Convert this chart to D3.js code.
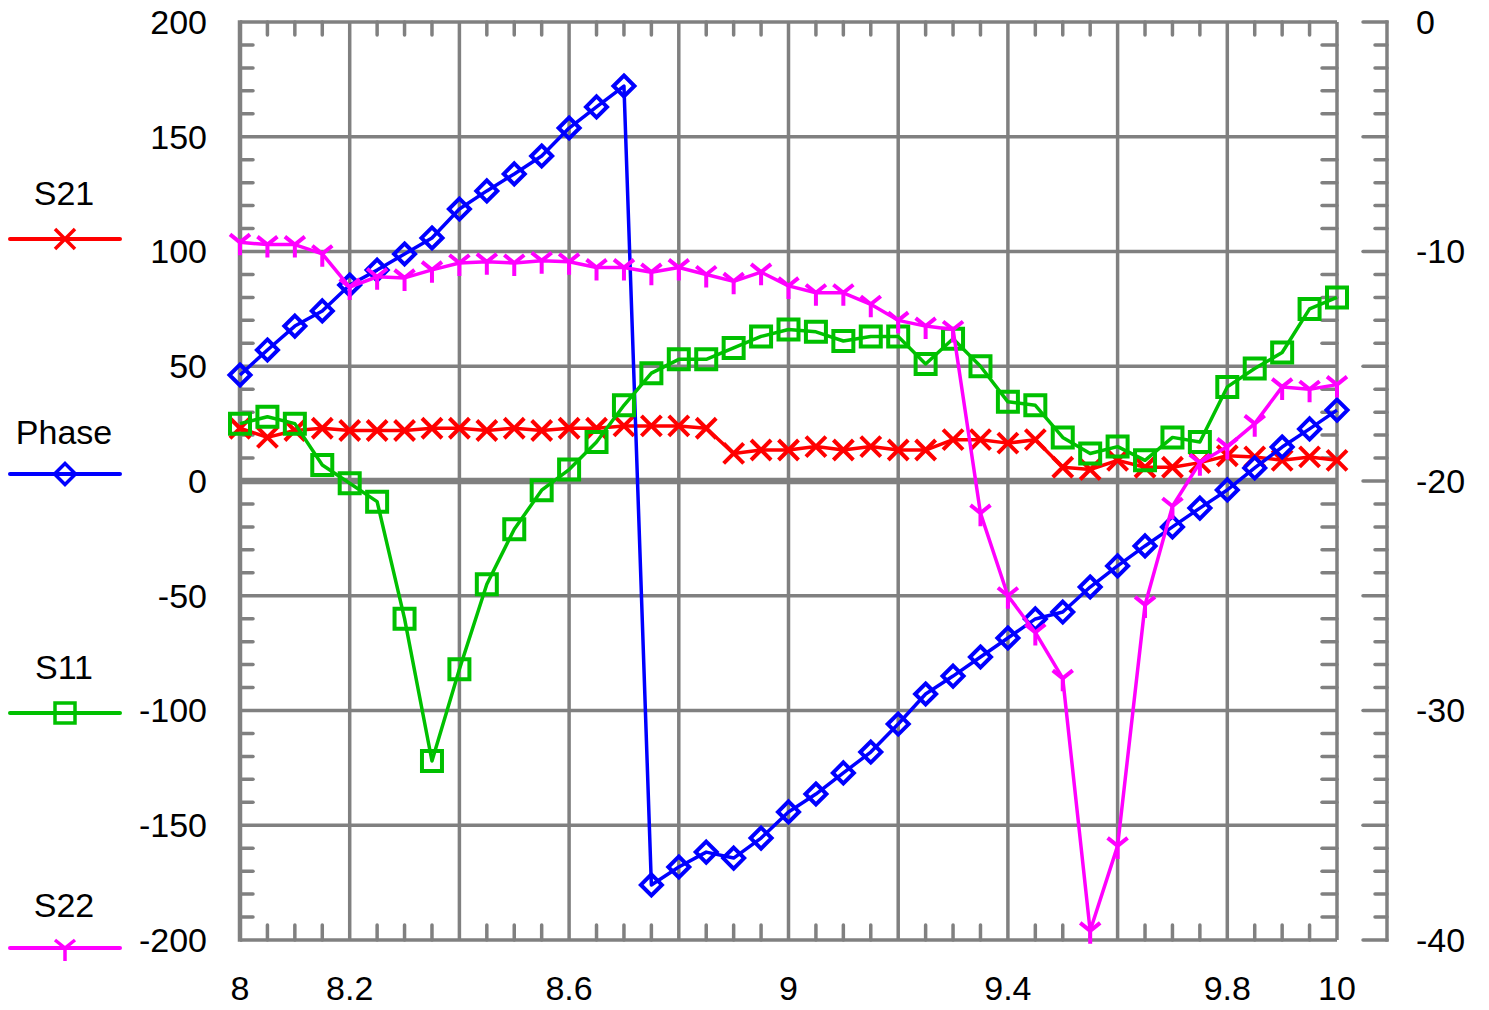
<!DOCTYPE html>
<html><head><meta charset="utf-8">
<script src="https://cdn.jsdelivr.net/npm/d3@7"></script>
<style>body{margin:0;background:#fff}svg{display:block;font-family:"Liberation Sans",Arial,sans-serif}</style>
</head><body><svg id="c" width="1489" height="1010"></svg>
<script>
// ---- data ----
const freq = [8.00,8.05,8.10,8.15,8.20,8.25,8.30,8.35,8.40,8.45,8.50,8.55,8.60,8.65,8.70,8.75,8.80,8.85,8.90,8.95,
              9.00,9.05,9.10,9.15,9.20,9.25,9.30,9.35,9.40,9.45,9.50,9.55,9.60,9.65,9.70,9.75,9.80,9.85,9.90,9.95,10.00];
// Phase (deg, left axis)
const phase = [46.2,57.1,67.5,74.1,85.4,91.9,98.9,105.9,118.5,126.4,133.8,141.6,153.8,163.0,172.1,
               -176.0,-168.2,-161.7,-164.3,-155.6,-144.2,-136.4,-127.2,-118.1,-105.9,-92.8,-85.0,-76.7,-68.4,-60.1,
               -57.1,-46.2,-37.0,-28.3,-20.0,-11.8,-3.9,5.7,14.8,22.7,30.9];
// S21 (dB, right axis)
const s21 = [-17.7,-18.1,-17.8,-17.7,-17.8,-17.8,-17.8,-17.7,-17.7,-17.8,-17.7,-17.8,-17.7,-17.7,-17.6,-17.6,-17.6,-17.7,
             -18.8,-18.65,-18.65,-18.5,-18.65,-18.5,-18.65,-18.65,-18.2,-18.2,-18.35,-18.2,
             -19.4,-19.5,-19.1,-19.4,-19.4,-19.2,-18.9,-18.95,-19.1,-18.95,-19.1];
// S11 (dB, right axis)
const s11 = [-17.5,-17.2,-17.5,-19.3,-20.1,-20.9,-26.0,-32.2,-28.2,-24.5,-22.1,-20.4,-19.5,-18.3,-16.7,-15.3,-14.7,-14.7,
             -14.2,-13.7,-13.4,-13.5,-13.9,-13.7,-13.7,-14.9,-13.8,-15.0,-16.55,-16.7,-18.1,-18.8,-18.5,-19.1,-18.1,-18.3,
             -15.9,-15.1,-14.4,-12.5,-12.0];
// S22 (dB, right axis)
const s22 = [-9.6,-9.7,-9.7,-10.1,-11.55,-11.1,-11.15,-10.8,-10.5,-10.45,-10.5,-10.4,-10.45,-10.7,-10.7,-10.9,-10.7,-11.0,
             -11.3,-10.9,-11.5,-11.8,-11.8,-12.3,-13.0,-13.25,-13.4,-21.4,-25.0,-26.6,-28.6,-39.6,-35.9,-25.4,-21.1,
             -19.2,-18.5,-17.5,-15.9,-16.0,-15.8];
const xTickLabels = [8, 8.2, 8.6, 9, 9.4, 9.8, 10];
const xGrid = [8.2, 8.4, 8.6, 8.8, 9, 9.2, 9.4, 9.6, 9.8];
const leftTickLabels = [200, 150, 100, 50, 0, -50, -100, -150, -200];
const rightTickLabels = [0, -10, -20, -30, -40];
const seriesNames = ["S21", "Phase", "S11", "S22"];

// ---- layout ----
const svg = d3.select("#c");
const L = 240, R = 1337, T = 22, B = 940;
const x = d3.scaleLinear().domain([8, 10]).range([L, R]);
const yL = d3.scaleLinear().domain([-200, 200]).range([B, T]);
const yR = d3.scaleLinear().domain([-40, 0]).range([B, T]);
const grey = "#808080";
const gw = 3.5;

const g = svg.append("g");
// grid
g.selectAll(".vg").data(xGrid).join("line")
  .attr("x1", d => x(d)).attr("x2", d => x(d)).attr("y1", T).attr("y2", B)
  .attr("stroke", grey).attr("stroke-width", gw);
g.selectAll(".hg").data(leftTickLabels.filter(d => d !== 0 && Math.abs(d) !== 200)).join("line")
  .attr("x1", L).attr("x2", R).attr("y1", d => yL(d)).attr("y2", d => yL(d))
  .attr("stroke", grey).attr("stroke-width", gw);
// zero line
g.append("line").attr("x1", L).attr("x2", R).attr("y1", yL(0)).attr("y2", yL(0))
  .attr("stroke", grey).attr("stroke-width", 6.5);

// minor ticks inside frame
const xMinor = d3.range(1, 40).map(i => 8 + i * 0.05).filter(v => Math.abs((v - 8) / 0.2 - Math.round((v - 8) / 0.2)) > 1e-6);
const yMinor = d3.range(-190, 200, 10).filter(v => v % 50 !== 0);
g.selectAll(".tt").data(xMinor).join("line")
  .attr("x1", d => x(d)).attr("x2", d => x(d)).attr("y1", T).attr("y2", T + 13)
  .attr("stroke", grey).attr("stroke-width", gw).attr("stroke-linecap", "round");
g.selectAll(".bt").data(xMinor).join("line")
  .attr("x1", d => x(d)).attr("x2", d => x(d)).attr("y1", B).attr("y2", B - 15)
  .attr("stroke", grey).attr("stroke-width", gw).attr("stroke-linecap", "round");
g.selectAll(".lt").data(yMinor).join("line")
  .attr("x1", L).attr("x2", L + 13).attr("y1", d => yL(d)).attr("y2", d => yL(d))
  .attr("stroke", grey).attr("stroke-width", gw).attr("stroke-linecap", "round");
g.selectAll(".rt").data(yMinor).join("line")
  .attr("x1", R).attr("x2", R - 15).attr("y1", d => yL(d)).attr("y2", d => yL(d))
  .attr("stroke", grey).attr("stroke-width", gw).attr("stroke-linecap", "round");

// frame
g.append("line").attr("x1", L).attr("x2", R).attr("y1", T).attr("y2", T).attr("stroke", grey).attr("stroke-width", gw);
g.append("line").attr("x1", L).attr("x2", R).attr("y1", B).attr("y2", B).attr("stroke", grey).attr("stroke-width", gw);
g.append("line").attr("x1", R).attr("x2", R).attr("y1", T).attr("y2", B).attr("stroke", grey).attr("stroke-width", gw);
g.append("line").attr("x1", L).attr("x2", L).attr("y1", T - 1.75).attr("y2", B + 1.75).attr("stroke", grey).attr("stroke-width", 4.5);

// right axis
const RA = 1387;
g.append("line").attr("x1", RA).attr("x2", RA).attr("y1", T - 1.75).attr("y2", B + 1.75).attr("stroke", grey).attr("stroke-width", gw);
g.selectAll(".ra").data(d3.range(-40, 1, 1)).join("line")
  .attr("x1", RA).attr("x2", d => d % 5 === 0 ? RA - 24 : RA - 12)
  .attr("y1", d => yR(d)).attr("y2", d => yR(d))
  .attr("stroke", grey).attr("stroke-width", gw).attr("stroke-linecap", "round");

// tick labels
const fs = 34;
svg.selectAll(".ll").data(leftTickLabels).join("text")
  .attr("x", 207).attr("y", d => yL(d)).attr("dy", "0.35em")
  .attr("text-anchor", "end").attr("font-size", fs).attr("fill", "#000").text(d => d);
svg.selectAll(".rl").data(rightTickLabels).join("text")
  .attr("x", 1416).attr("y", d => yR(d)).attr("dy", "0.35em")
  .attr("text-anchor", "start").attr("font-size", fs).attr("fill", "#000").text(d => d);
svg.selectAll(".xl").data(xTickLabels).join("text")
  .attr("x", d => x(d)).attr("y", 988).attr("dy", "0.35em")
  .attr("text-anchor", "middle").attr("font-size", fs).attr("fill", "#000").text(d => d);

// markers
const markerPaths = {
  x: "M-10,-10L10,10M-10,10L10,-10",
  diamond: "M0,-10.5L10.5,0L0,10.5L-10.5,0Z",
  square: "M-10,-10H10V10H-10Z",
  y: "M-10,-8L0,0L10,-8M0,0V13"
};
const series = [
  {name: seriesNames[0], vals: s21, y: yR, color: "#ff0000", marker: "x"},
  {name: seriesNames[1], vals: phase, y: yL, color: "#0000ff", marker: "diamond"},
  {name: seriesNames[2], vals: s11, y: yR, color: "#00c000", marker: "square"},
  {name: seriesNames[3], vals: s22, y: yR, color: "#ff00ff", marker: "y"}
];
series.forEach(s => {
  const pts = freq.map((f, i) => [x(f), s.y(s.vals[i])]);
  svg.append("path").attr("d", d3.line()(pts)).attr("fill", "none")
    .attr("stroke", s.color).attr("stroke-width", 3.5).attr("stroke-linejoin", "round");
  svg.append("g").selectAll("path").data(pts).join("path")
    .attr("transform", d => `translate(${d[0]},${d[1]})`)
    .attr("d", markerPaths[s.marker]).attr("fill", "none")
    .attr("stroke", s.color).attr("stroke-width", 4);
});

// legend
const legY = [{t: 193, l: 239}, {t: 432, l: 474}, {t: 667, l: 713}, {t: 905, l: 948}];
series.forEach((s, i) => {
  svg.append("text").attr("x", 64).attr("y", legY[i].t).attr("dy", "0.35em")
    .attr("text-anchor", "middle").attr("font-size", fs).attr("fill", "#000").text(s.name);
  svg.append("line").attr("x1", 10).attr("x2", 120).attr("y1", legY[i].l).attr("y2", legY[i].l)
    .attr("stroke", s.color).attr("stroke-width", 4).attr("stroke-linecap", "round");
  svg.append("path").attr("transform", `translate(65,${legY[i].l})`)
    .attr("d", markerPaths[s.marker]).attr("fill", "none")
    .attr("stroke", s.color).attr("stroke-width", 3.5);
});
</script>
</body></html>
